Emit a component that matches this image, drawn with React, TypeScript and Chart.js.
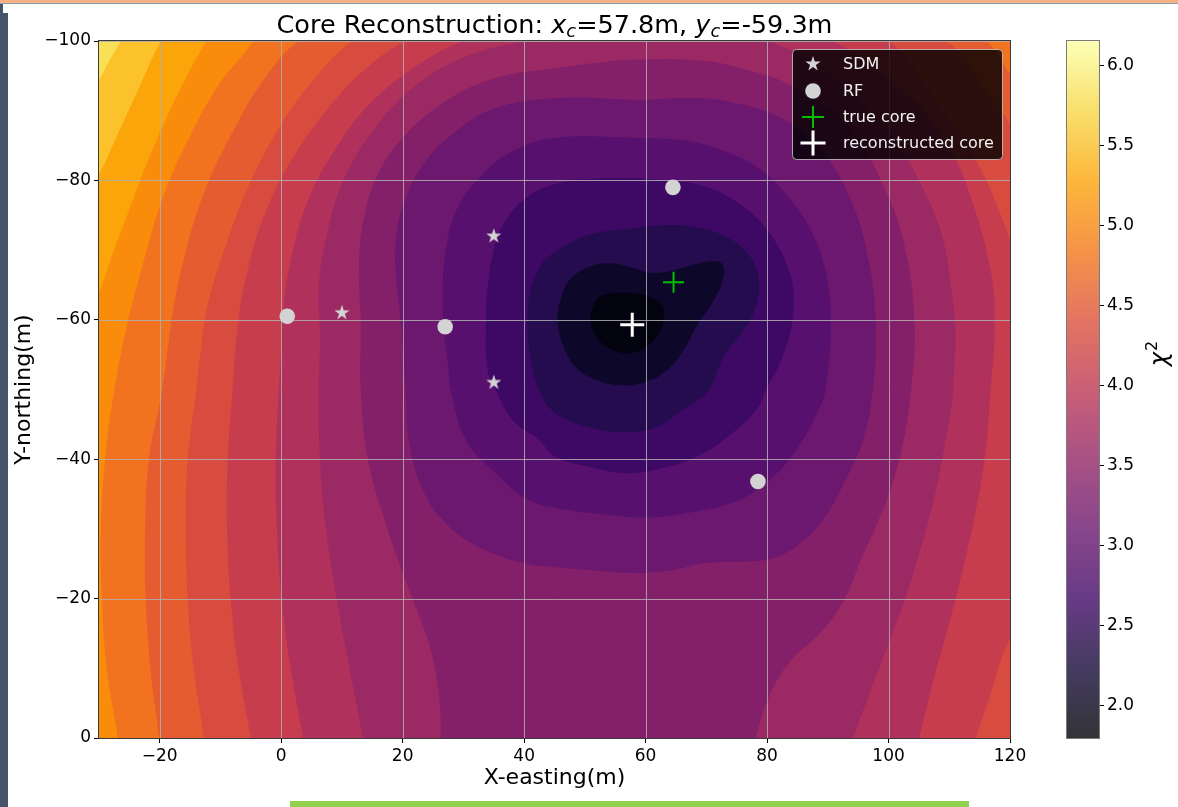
import { useEffect, useRef } from 'react';
import { Chart, registerables } from 'chart.js';

Chart.register(...registerables);

type Pt = [number, number];

const FAMILY = "'DejaVu Sans', 'Liberation Sans', sans-serif";

// Axis extents and tick positions
const xMin = -30;
const xMax = 120;
const yMin = -100;
const yMax = 0;
const xTickValues = [-20, 0, 20, 40, 60, 80, 100, 120];
const yTickValues = [-100, -80, -60, -40, -20, 0];
const chiMin = 1.8;
const chiMax = 6.156;
const chiTickValues = [2.0, 2.5, 3.0, 3.5, 4.0, 4.5, 5.0, 5.5, 6.0];

// Detector stations
const sdmX = [35, 10, 35];
const sdmY = [-72, -61, -51];
const rfX = [1, 27, 64.5, 78.5];
const rfY = [-60.5, -59, -79, -36.8];

// Core positions
const trueCoreX = 64.6;
const trueCoreY = -65.4;
const coreX = 57.8;
const coreY = -59.3;

// Fill colour of each chi^2 band, lowest band first
const bandColors = [
  '#03030f', '#0d0829', '#240c4f', '#3d0965', '#57106e', '#6c186e',
  '#841f6a', '#9b2964', '#b0315b', '#c73d4d', '#d84b3f', '#e55c30',
  '#f1731f', '#f98c0a', '#fca50a', '#fbc22c', '#f7df56',
];

// Colormap stops used by the colour bar
const infernoStops = [
  '#000004', '#160b39', '#420a68', '#6a176e', '#932667', '#bc3754',
  '#dd513a', '#f37819', '#fca50a', '#f6d746', '#fcffa4',
];

// Contour outlines (x, y in metres). Outline k encloses every band below k.
const contour01: Pt[] = [
  [51.0, -61.1], [52.1, -63.1], [54.6, -63.8], [57.9, -63.8], [60.9, -63.2], [62.7, -62.0],
  [63.0, -60.0], [61.9, -57.7], [59.6, -55.8], [56.7, -55.2], [53.9, -56.0], [52.0, -57.4],
  [51.0, -59.4],
];
const contour02: Pt[] = [
  [45.7, -62.1], [47.2, -65.4], [50.2, -67.4], [54.3, -68.1], [58.1, -67.4], [61.2, -66.7],
  [64.5, -67.1], [67.9, -67.9], [71.1, -68.4], [72.7, -67.9], [72.7, -65.7], [71.1, -62.6],
  [68.6, -59.4], [66.3, -55.7], [63.6, -52.8], [60.0, -51.1], [55.9, -50.6], [51.8, -51.4],
  [48.5, -53.2], [46.4, -56.4], [45.5, -59.7],
];
const contour03: Pt[] = [
  [45.2, -69.9], [50.7, -72.2], [59.2, -73.2], [63.3, -73.6], [68.8, -73.2], [73.7, -71.7],
  [77.0, -69.3], [78.6, -66.0], [78.2, -62.1], [76.0, -58.4], [72.7, -54.5], [70.4, -49.9],
  [66.1, -47.1], [61.7, -44.6], [56.2, -43.9], [50.7, -44.6], [45.2, -46.6], [42.8, -49.2],
  [41.1, -54.2], [40.6, -60.0], [41.1, -64.3], [42.8, -67.9],
];
const contour04: Pt[] = [
  [59.2, -80.3], [69.1, -79.3], [75.7, -76.5], [80.6, -72.2], [83.6, -67.1], [84.4, -62.8],
  [83.9, -58.5], [82.3, -54.2], [79.8, -49.9], [78.2, -47.1], [74.4, -43.8], [68.3, -40.3],
  [61.7, -38.5], [56.2, -38.0], [50.7, -38.9], [45.2, -40.3], [42.4, -42.8], [38.1, -45.6],
  [35.3, -49.9], [34.0, -52.7], [33.7, -59.8], [34.0, -64.6], [34.8, -69.3], [36.5, -73.6],
  [40.3, -77.5], [45.2, -79.5], [52.6, -80.3],
];
const contour05: Pt[] = [
  [59.2, -86.1], [65.8, -85.8], [72.4, -84.4], [79.0, -81.5], [83.9, -77.2], [87.2, -72.9],
  [89.6, -67.1], [90.5, -59.3], [89.6, -49.9], [88.5, -47.1], [85.2, -41.8], [80.9, -37.4],
  [75.3, -34.1], [67.1, -32.3], [60.0, -31.6], [50.7, -32.3], [45.2, -33.0], [40.8, -34.1],
  [35.3, -38.0], [30.4, -42.8], [27.9, -49.9], [27.6, -52.7], [26.8, -58.4], [26.6, -64.1],
  [27.1, -69.9], [28.8, -75.6], [32.5, -80.3], [38.1, -84.2], [45.2, -86.1],
];
const contour06: Pt[] = [
  [59.2, -91.5], [65.8, -91.8], [72.4, -91.5], [82.3, -89.0], [88.8, -84.4], [93.8, -77.2],
  [96.7, -68.6], [97.9, -59.3], [97.4, -49.9], [95.8, -42.8], [92.9, -37.0], [89.2, -31.3],
  [84.7, -27.4], [80.9, -25.8], [78.1, -25.4], [69.9, -25.1], [64.5, -24.1], [60.0, -23.7],
  [56.2, -23.7], [50.7, -24.1], [45.2, -24.5], [39.8, -25.1], [32.5, -27.4], [27.1, -30.8],
  [23.3, -35.6], [21.0, -42.8], [20.5, -49.9], [19.7, -59.8], [18.9, -66.0], [18.9, -71.7],
  [20.5, -77.5], [23.8, -82.8], [28.8, -87.1], [35.3, -90.4], [45.2, -91.8],
];
const contour07: Pt[] = [
  [55.9, -97.3], [67.5, -97.3], [75.7, -96.1], [85.5, -93.0], [93.8, -87.2], [99.5, -78.6],
  [102.8, -70.0], [104.3, -59.3], [103.7, -49.9], [102.5, -42.8], [100.3, -35.6], [97.9, -30.3],
  [95.4, -25.5], [92.9, -20.2], [89.2, -15.5], [83.6, -10.8], [80.3, -5.9], [78.1, 0],
  [76.5, 4.6], [26.3, 4.6], [26.3, 0], [25.9, -6.9], [24.3, -13.6], [21.7, -19.8],
  [20.0, -23.7], [17.2, -30.8], [14.3, -39.9], [13.1, -49.9], [13.1, -59.8], [12.8, -67.0],
  [13.4, -73.6], [15.6, -80.3], [20.0, -86.1], [27.1, -91.4], [35.3, -94.7], [45.2, -96.1],
];
const contour08: Pt[] = [
  [59.2, -103.0], [80.2, -100.0], [95.3, -91.5], [106.6, -77.2], [110.6, -62.8], [110.6, -49.9],
  [109.4, -42.8], [107.8, -35.6], [105.7, -28.4], [102.8, -20.2], [100.0, -13.6], [97.1, -6.9],
  [94.1, 0], [92.1, 4.6], [14.3, 4.6], [13.45, 0], [11.3, -9.8], [9.2, -19.8],
  [7.4, -29.8], [6.4, -39.9], [6.2, -49.9], [6.4, -57.4], [6.2, -64.6], [7.4, -71.7],
  [10.2, -79.9], [15.1, -87.1], [21.7, -93.3], [29.9, -97.6], [40.3, -100.0],
];
const contour09: Pt[] = [
  [59.2, -105.9], [77.3, -103.7], [90.8, -100], [104.1, -91.5], [110.2, -84.4], [113.7, -77.2],
  [116.8, -67.1], [117.5, -59.3], [116.8, -49.9], [116.0, -41.3], [114.4, -32.7], [112.2, -24.1],
  [109.9, -16.2], [107.4, -8.3], [105.0, 0], [103.3, 4.6], [4.4, 4.6], [3.6, 0],
  [1.6, -9.8], [0.1, -19.8], [-0.7, -29.8], [-0.9, -39.9], [-0.4, -49.9], [-0.05, -55.0],
  [0.4, -62.1], [1.9, -69.9], [4.6, -77.5], [9.0, -84.6], [14.4, -90.8], [21.7, -96.1],
  [29.9, -100], [42.7, -103.7],
];
const contour10: Pt[] = [
  [59.2, -108.0], [82.3, -105.9], [100.0, -100], [107.8, -91.5], [114.4, -82.9], [118.5, -75.0],
  [120.5, -69.6], [122.6, -58.5], [122.1, -37.0], [120.8, -16.9], [118.5, -11.2], [116.5, -5.5],
  [114.4, 0], [113.2, 4.6], [-4.3, 4.6], [-5.0, 0], [-7.0, -9.8], [-8.3, -19.8],
  [-8.9, -29.8], [-8.8, -39.9], [-8.0, -49.9], [-7.0, -60.3], [-5.3, -67.9], [-2.5, -75.6],
  [1.9, -83.2], [7.4, -90.0], [13.5, -95.7], [20.5, -100], [36.2, -105.9],
];
const contour11: Pt[] = [
  [59.2, -110.2], [88.8, -107.3], [109.4, -100], [116.0, -93.0], [120.5, -86.8], [125.1, -70.0],
  [125.9, -41.3], [125.1, -12.6], [123.4, 6.0], [-12.1, 4.6], [-12.7, 0], [-14.4, -9.8],
  [-15.4, -19.8], [-15.7, -29.8], [-15.4, -39.9], [-14.0, -49.9], [-13.4, -54.5], [-12.1, -62.1],
  [-9.1, -70.7], [-5.3, -79.3], [-0.4, -87.5], [5.2, -94.3], [11.8, -100], [27.9, -107.3],
];
const contour12: Pt[] = [
  [59.2, -112.3], [98.7, -108.8], [116.0, -100], [120.1, -95.1], [125.1, -88.7], [130.0, -62.8],
  [130.8, -34.1], [129.2, 6.0], [-19.5, 4.6], [-20.1, 0], [-21.5, -9.8], [-22.3, -19.8],
  [-22.4, -29.8], [-21.8, -39.9], [-19.6, -49.9], [-17.8, -61.3], [-15.7, -69.9], [-12.4, -78.9],
  [-7.9, -87.1], [-3.0, -94.3], [2.9, -100], [19.7, -108.8],
];
const contour13: Pt[] = [
  [59.2, -115.9], [134.9, -114.5], [134.9, 6.0], [-26.4, 4.6], [-26.9, 0], [-28.7, -9.8],
  [-29.5, -19.8], [-29.7, -29.8], [-29.0, -39.9], [-27.5, -49.9], [-25.5, -58.8], [-22.8, -67.9],
  [-19.5, -77.5], [-15.2, -86.1], [-10.3, -93.7], [-4.6, -100], [3.2, -111.6],
];
const contour14: Pt[] = [
  [-3.3, -114.5], [134.9, -117.4], [134.9, 6.0], [-36.3, 6.0], [-34.6, -54.2], [-29.8, -64.3],
  [-28.4, -67.9], [-25.1, -75.6], [-21.1, -84.6], [-16.8, -92.8], [-12.4, -100],
];
const contour15: Pt[] = [
  [-8.3, -117.4], [134.9, -118.8], [134.9, 6.0], [-36.3, 6.0], [-34.6, -72.9], [-29.8, -81.2],
  [-27.2, -86.1], [-23.4, -93.3], [-19.8, -100],
];
const contour16: Pt[] = [
  [-13.2, -120.2], [134.9, -120.2], [134.9, 6.0], [-36.3, 6.0], [-34.6, -88.7], [-29.8, -94.7],
  [-28.4, -97.0], [-26.4, -100],
];
const fullExtent: Pt[] = [[-40, -125], [140, -125], [140, 10], [-40, 10]];

const contours = [
  contour01, contour02, contour03, contour04, contour05, contour06, contour07, contour08,
  contour09, contour10, contour11, contour12, contour13, contour14, contour15, contour16,
  fullExtent,
];

const legendLabels = ['SDM', 'RF', 'true core', 'reconstructed core'];
const markerGray = '#d3d3d3';
const trueCoreColor = '#00c000';

const fmtTick = (v: number) => (v < 0 ? '\u2212' + Math.abs(v) : String(v));

function hexToRgba(hex: string, a: number) {
  const n = parseInt(hex.slice(1), 16);
  return `rgba(${(n >> 16) & 255},${(n >> 8) & 255},${n & 255},${a})`;
}

function makeStar(R: number, color: string) {
  const size = Math.ceil(R) * 2 + 2;
  const c = document.createElement('canvas');
  c.width = size;
  c.height = size;
  const g = c.getContext('2d')!;
  g.translate(size / 2, size / 2);
  g.beginPath();
  const r = R * 0.381966;
  for (let k = 0; k < 10; k++) {
    const rad = k % 2 === 0 ? R : r;
    const a = -Math.PI / 2 + (k * Math.PI) / 5;
    g.lineTo(rad * Math.cos(a), rad * Math.sin(a));
  }
  g.closePath();
  g.fillStyle = color;
  g.fill();
  return c;
}

export default function App() {
  const mainRef = useRef<HTMLCanvasElement>(null);
  const barRef = useRef<HTMLCanvasElement>(null);

  useEffect(() => {
    const star = makeStar(8, markerGray);

    const markerSets: any[] = [
      {
        label: legendLabels[0],
        data: sdmX.map((x, i) => ({ x, y: sdmY[i] })),
        showLine: false,
        pointStyle: star,
        pointRadius: 8,
        order: 3,
      },
      {
        label: legendLabels[1],
        data: rfX.map((x, i) => ({ x, y: rfY[i] })),
        showLine: false,
        pointStyle: 'circle',
        pointRadius: 7.8,
        pointBackgroundColor: markerGray,
        pointBorderWidth: 0,
        order: 2,
      },
      {
        label: legendLabels[2],
        data: [{ x: trueCoreX, y: trueCoreY }],
        showLine: false,
        pointStyle: 'cross',
        pointRadius: 10.5,
        pointBorderColor: trueCoreColor,
        pointBorderWidth: 2,
        order: 1,
      },
      {
        label: legendLabels[3],
        data: [{ x: coreX, y: coreY }],
        showLine: false,
        pointStyle: 'cross',
        pointRadius: 12,
        pointBorderColor: '#ffffff',
        pointBorderWidth: 3,
        order: 0,
      },
    ];

    const contourSets = contours.map((pts, i) => ({
      label: `band ${i}`,
      data: [...pts, pts[0]].map(([x, y]) => ({ x, y })),
      showLine: true,
      fill: 'shape',
      backgroundColor: bandColors[i],
      borderWidth: 0,
      pointRadius: 0,
      tension: 0.4,
      order: 10 + i,
    }));

    const innermostIndex = markerSets.length;

    const gridOverFill = {
      id: 'gridOverFill',
      afterDatasetDraw(chart: any, args: any) {
        if (args.index !== innermostIndex) return;
        const { ctx, chartArea: a, scales } = chart;
        ctx.save();
        ctx.beginPath();
        ctx.rect(a.left, a.top, a.right - a.left, a.bottom - a.top);
        ctx.clip();
        ctx.strokeStyle = 'rgba(176,176,176,0.85)';
        ctx.lineWidth = 1;
        for (const v of xTickValues) {
          const px = Math.round(scales.x.getPixelForValue(v)) + 0.5;
          ctx.beginPath();
          ctx.moveTo(px, a.top);
          ctx.lineTo(px, a.bottom);
          ctx.stroke();
        }
        for (const v of yTickValues) {
          const py = Math.round(scales.y.getPixelForValue(v)) + 0.5;
          ctx.beginPath();
          ctx.moveTo(a.left, py);
          ctx.lineTo(a.right, py);
          ctx.stroke();
        }
        ctx.restore();
      },
    };

    const frameAndLegend = {
      id: 'frameAndLegend',
      afterDatasetsDraw(chart: any) {
        const { ctx, chartArea: a } = chart;
        ctx.save();
        ctx.strokeStyle = '#3a3a3a';
        ctx.lineWidth = 1;
        ctx.strokeRect(Math.round(a.left) - 0.5, Math.round(a.top) - 0.5,
          Math.round(a.right - a.left) + 1, Math.round(a.bottom - a.top) + 1);

        // legend box
        const w = 210;
        const h = 110;
        const x0 = a.right - 8 - w;
        const y0 = a.top + 8;
        ctx.beginPath();
        ctx.roundRect(x0 + 0.5, y0 + 0.5, w, h, 4);
        ctx.fillStyle = 'rgba(0,0,0,0.8)';
        ctx.fill();
        ctx.strokeStyle = 'rgba(204,204,204,0.8)';
        ctx.stroke();

        const rows = [15, 42, 68, 94];
        const mx = x0 + 21;
        const tx = x0 + 51;
        ctx.drawImage(star, mx - star.width / 2, y0 + rows[0] - star.height / 2);
        ctx.beginPath();
        ctx.arc(mx, y0 + rows[1], 7.8, 0, Math.PI * 2);
        ctx.fillStyle = markerGray;
        ctx.fill();
        const cross = (cy: number, r: number, col: string, lw: number) => {
          ctx.beginPath();
          ctx.moveTo(mx - r, cy);
          ctx.lineTo(mx + r, cy);
          ctx.moveTo(mx, cy - r);
          ctx.lineTo(mx, cy + r);
          ctx.strokeStyle = col;
          ctx.lineWidth = lw;
          ctx.stroke();
        };
        cross(y0 + rows[2], 11, trueCoreColor, 2);
        cross(y0 + rows[3], 12.5, '#ffffff', 3);

        ctx.fillStyle = '#f2f2f2';
        ctx.font = `16px ${FAMILY}`;
        ctx.textBaseline = 'middle';
        ctx.textAlign = 'left';
        legendLabels.forEach((t, i) => ctx.fillText(t, tx, y0 + rows[i] + 1));
        ctx.restore();
      },
    };

    const tickFont = { family: FAMILY, size: 17 };

    const main = new Chart(mainRef.current!, {
      type: 'line',
      data: { datasets: [...markerSets, ...contourSets] as any },
      options: {
        responsive: false,
        animation: false,
        events: [],
        layout: { padding: { left: 0, top: 41, right: 168, bottom: 0 } },
        elements: { line: { capBezierPoints: false } },
        plugins: {
          legend: { display: false },
          title: { display: false },
          tooltip: { enabled: false },
        },
        scales: {
          x: {
            type: 'linear',
            position: 'bottom',
            min: xMin,
            max: xMax,
            afterBuildTicks: (s: any) => {
              s.ticks = xTickValues.map((value) => ({ value }));
            },
            afterFit: (s: any) => {
              s.height = 69;
            },
            ticks: {
              font: tickFont,
              color: '#000',
              padding: 3,
              maxRotation: 0,
              autoSkip: false,
              callback: (v: any) => fmtTick(Number(v)),
            },
            grid: { drawOnChartArea: false, drawTicks: true, tickLength: 5, tickColor: '#000' },
            border: { display: false },
            title: {
              display: true,
              text: 'X-easting(m)',
              color: '#000',
              font: { family: FAMILY, size: 22 },
              padding: { top: 0, bottom: 16 },
            },
          },
          y: {
            type: 'linear',
            position: 'left',
            min: yMin,
            max: yMax,
            reverse: true,
            afterBuildTicks: (s: any) => {
              s.ticks = yTickValues.map((value) => ({ value }));
            },
            afterFit: (s: any) => {
              s.width = 99;
            },
            ticks: {
              font: tickFont,
              color: '#000',
              padding: 3,
              autoSkip: false,
              callback: (v: any) => fmtTick(Number(v)),
            },
            grid: { drawOnChartArea: false, drawTicks: true, tickLength: 5, tickColor: '#000' },
            border: { display: false },
            title: {
              display: true,
              text: 'Y-northing(m)',
              color: '#000',
              font: { family: FAMILY, size: 22 },
              padding: { top: 11, bottom: 0 },
            },
          },
        },
      } as any,
      plugins: [gridOverFill, frameAndLegend],
    });

    const barDecor = {
      id: 'barDecor',
      afterDatasetsDraw(chart: any) {
        const { ctx, chartArea: a } = chart;
        ctx.save();
        ctx.strokeStyle = '#7a7a7a';
        ctx.lineWidth = 1;
        ctx.strokeRect(Math.round(a.left) - 0.5, Math.round(a.top) - 0.5,
          Math.round(a.right - a.left) + 1, Math.round(a.bottom - a.top) + 1);
        ctx.restore();
      },
      afterDraw(chart: any) {
        const { ctx, chartArea: a } = chart;
        const cy = (a.top + a.bottom) / 2 - 36;
        ctx.save();
        ctx.translate(127, cy);
        ctx.rotate(-Math.PI / 2);
        ctx.fillStyle = '#000';
        ctx.textBaseline = 'alphabetic';
        ctx.textAlign = 'left';
        ctx.font = `italic 24px ${FAMILY}`;
        const wChi = ctx.measureText('\u03c7').width;
        ctx.font = `16px ${FAMILY}`;
        const wTwo = ctx.measureText('2').width;
        const start = -(wChi + wTwo + 1) / 2;
        ctx.font = `italic 24px ${FAMILY}`;
        ctx.fillText('\u03c7', start, 0);
        ctx.font = `16px ${FAMILY}`;
        ctx.fillText('2', start + wChi + 1, -10);
        ctx.restore();
      },
    };

    const bar = new Chart(barRef.current!, {
      type: 'bar',
      data: {
        labels: ['\u03c7\u00b2'],
        datasets: [
          {
            data: [[chiMin, chiMax]] as any,
            borderWidth: 0,
            barPercentage: 1,
            categoryPercentage: 1,
            backgroundColor: (c: any) => {
              const area = c.chart.chartArea;
              if (!area) return infernoStops[0];
              const g = c.chart.ctx.createLinearGradient(0, area.bottom, 0, area.top);
              infernoStops.forEach((col, i) => g.addColorStop(i / (infernoStops.length - 1), hexToRgba(col, 0.8)));
              return g;
            },
          },
        ],
      },
      options: {
        responsive: false,
        animation: false,
        events: [],
        layout: { padding: { left: 27, top: 41, right: 0, bottom: 69 } },
        plugins: { legend: { display: false }, tooltip: { enabled: false }, title: { display: false } },
        scales: {
          x: { display: false },
          y: {
            position: 'right',
            min: chiMin,
            max: chiMax,
            afterBuildTicks: (s: any) => {
              s.ticks = chiTickValues.map((value) => ({ value }));
            },
            afterFit: (s: any) => {
              s.width = 79;
            },
            ticks: {
              font: tickFont,
              color: '#000',
              padding: 3,
              autoSkip: false,
              callback: (v: any) => Number(v).toFixed(1),
            },
            grid: { drawOnChartArea: false, drawTicks: true, tickLength: 5, tickColor: '#000' },
            border: { display: false },
          },
        },
      } as any,
      plugins: [barDecor],
    });

    return () => {
      main.destroy();
      bar.destroy();
    };
  }, []);

  const sub = { fontStyle: 'italic', fontSize: '0.7em', position: 'relative' as const, top: '0.22em' };

  return (
    <div style={{ position: 'fixed', left: 0, top: 0, width: 1178, height: 807, background: '#fff', overflow: 'hidden' }}>
      <div style={{ position: 'absolute', left: 0, top: 0, width: 1178, height: 3, background: '#f4b183' }} />
      <div style={{ position: 'absolute', left: 0, top: 3, width: 1178, height: 1, background: '#8c9bb0' }} />
      <div style={{ position: 'absolute', left: 0, top: 4, width: 3, height: 803, background: '#44546a' }} />
      <div style={{ position: 'absolute', left: 3, top: 13, width: 5, height: 794, background: '#44546a' }} />
      <canvas ref={mainRef} width={1178} height={807} style={{ position: 'absolute', left: 0, top: 0 }} />
      <canvas ref={barRef} width={138} height={807} style={{ position: 'absolute', left: 1040, top: 0 }} />
      <div
        style={{
          position: 'absolute',
          left: 99,
          top: 9,
          width: 911,
          textAlign: 'center',
          fontFamily: FAMILY,
          fontSize: 25.5,
          lineHeight: '30px',
          color: '#000',
          whiteSpace: 'nowrap',
        }}
      >
        Core Reconstruction: <span style={{ fontStyle: 'italic' }}>x</span>
        <span style={sub}>c</span>={coreX}m, <span style={{ fontStyle: 'italic' }}>y</span>
        <span style={sub}>c</span>={coreY}m
      </div>
      <div style={{ position: 'absolute', left: 290, top: 801, width: 679, height: 6, background: '#92d050' }} />
    </div>
  );
}
